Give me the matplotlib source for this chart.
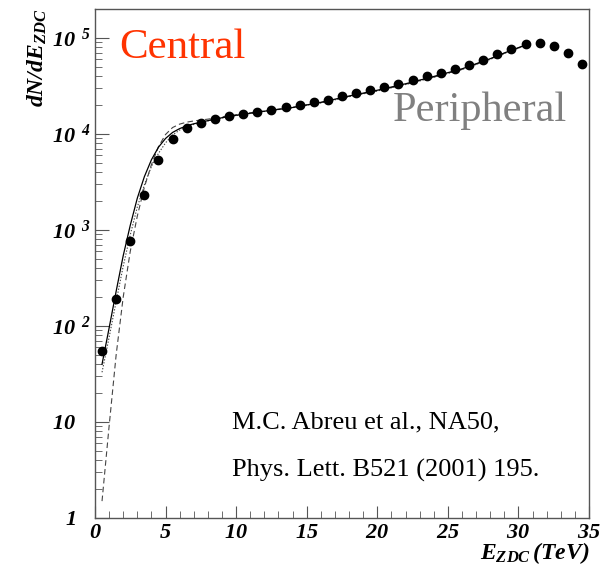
import numpy as np
import matplotlib
matplotlib.use("Agg")
import matplotlib.pyplot as plt
from matplotlib.transforms import ScaledTranslation

plt.rcParams['font.family'] = ['Liberation Serif', 'DejaVu Serif']
plt.rcParams['mathtext.fontset'] = 'custom'
plt.rcParams['mathtext.rm'] = 'Liberation Serif:italic:bold'
plt.rcParams['mathtext.it'] = 'Liberation Serif:italic:bold'
plt.rcParams['mathtext.bf'] = 'Liberation Serif:italic:bold'

# measured ZDC spectrum (bin centres, TeV)
e_data = np.arange(0.5, 35.0, 1.0)
n_data = [55, 190, 760, 2300, 5400, 8800, 11600, 12900, 14200, 15400,
          16300, 16900, 17800, 19200, 19900, 21700, 22900, 24900, 26900, 28700,
          31000, 33600, 36500, 40200, 43500, 47500, 52000, 58700, 67500, 76800,
          85900, 89200, 83000, 70700, 53200]

# calculated curves
e_fit = [0.5, 1.0, 1.5, 2.0, 2.5, 3.0, 3.5, 4.0, 4.5, 5.0, 5.5, 6.0, 6.5, 7.0,
         8.0, 9.0, 10.0, 12.0, 14.0, 16.0, 18.0, 20.0, 22.0, 24.0, 26.0, 28.0,
         29.0, 30.0, 30.5]
n_solid = [40, 95, 230, 540, 1120, 2150, 3600, 5400, 7300, 9000, 10400, 11400,
           12200, 12800, 13800, 14800, 15700, 17300, 18900, 21400, 24900, 28600,
           33400, 39800, 47800, 61000, 70000, 79500, 84500]
n_dashed = [1.5, 9, 50, 200, 600, 1400, 2800, 4800, 7400, 9900, 11700, 12700,
            13300, 13700, 14300, 15100, 15900, 17400, 19000, 21300, 24700, 28300,
            33000, 39300, 47300, 60500, 69500, 79000, 84500]
n_dotted = [33, 76, 180, 420, 890, 1740, 2950, 4600, 6300, 8100, 9800, 11000,
            11900, 12600, 13700, 14700, 15600, 17200, 18800, 21100, 24500, 28100,
            32800, 39000, 47000, 60000, 69000, 78500, 84000]

fig = plt.figure(figsize=(6.08, 5.69), dpi=100)
ax = fig.add_axes([0.1562, 0.0896, 0.8126, 0.8941])

ax.plot(e_fit, n_dashed, color='#444444', lw=0.8, ls=(0, (5, 3)), zorder=2)
ax.plot(e_fit, n_dotted, color='#444444', lw=0.8, ls=(0, (1.2, 1.5)), zorder=2)
ax.plot(e_fit, n_solid, color='black', lw=0.9, zorder=3)
ax.plot(e_data, n_data, 'o', color='black', ms=6, zorder=4)

ax.set_yscale('log')
ax.set_xlim(0, 35)
ax.set_ylim(1, 10**5.3)

ax.set_xticks(range(0, 36, 5))
ax.set_xticks(range(0, 36, 1), minor=True)
ax.set_xticklabels(['$%d$' % v for v in range(0, 36, 5)])
ax.set_yticks([1, 10, 100, 1000, 1e4, 1e5])
ax.set_yticklabels([r'$1$', r'$10$', r'$10^{\;\;2}$', r'$10^{\;\;3}$',
                    r'$10^{\;\;4}$', r'$10^{\;\;5}$'])
ax.tick_params(which='both', direction='in', top=False, right=False,
               labelsize=16, color='#555555')
ax.tick_params(axis='x', which='major', length=9, pad=4)
ax.tick_params(axis='x', which='minor', length=5)
ax.tick_params(axis='y', which='major', length=10, pad=3)
ax.tick_params(axis='y', which='minor', length=5)
for s in ax.spines.values():
    s.set_color('#555555')
    s.set_linewidth(1.0)

# plain labels (1, 10) sit left of the exponent column
shift = ScaledTranslation(-0.15, 0, fig.dpi_scale_trans)
for tk in ax.yaxis.get_major_ticks()[:2]:
    tk.label1.set_transform(tk.label1.get_transform() + shift)

ax.set_ylabel(r'$dN/dE_{ZDC}$', fontsize=17, loc='top', labelpad=2)
ax.set_xlabel(r'$E_{ZDC}\,(TeV)$', fontsize=17, loc='right', labelpad=-2)

ax.text(0.05, 0.925, 'Central', transform=ax.transAxes, color='#ff3300',
        fontsize=31, va='center', ha='left')
ax.text(0.955, 0.8, 'Peripheral', transform=ax.transAxes, color='#808080',
        fontsize=30.5, va='center', ha='right')
ax.text(0.277, 0.187, 'M.C. Abreu et al., NA50,', transform=ax.transAxes,
        fontsize=19, va='center', ha='left')
ax.text(0.277, 0.093, 'Phys. Lett. B521 (2001) 195.', transform=ax.transAxes,
        fontsize=19, va='center', ha='left')

fig.savefig('out.png', dpi=100)
